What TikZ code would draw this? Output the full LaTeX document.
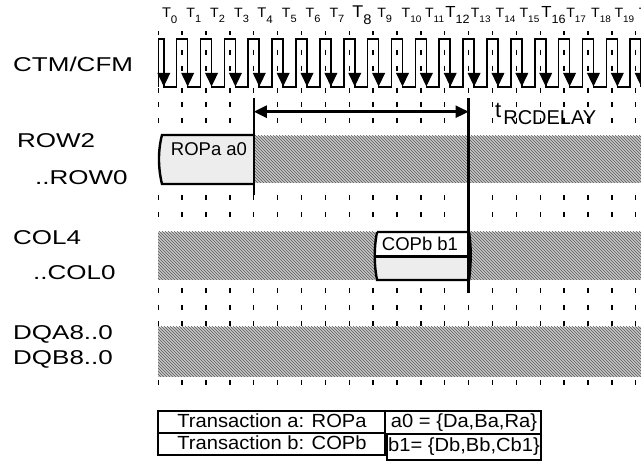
\documentclass[tikz,border=0pt]{standalone}
\usepackage{fontspec}
\setmainfont{Liberation Sans}
\newfontfamily\lblfont[FakeStretch=1.3]{Liberation Sans}
\newfontfamily\tabfont[FakeStretch=1.06]{Liberation Sans}
\newfontfamily\boxfont{Liberation Sans}
\newfontfamily\delfont{Liberation Sans}
\newfontfamily\tfont[FakeStretch=1.05]{Liberation Sans}
\usetikzlibrary{patterns,arrows.meta}
\begin{document}
\begin{tikzpicture}[x=1pt,y=-1pt,
  lbl/.style={anchor=base west, inner sep=0pt, font=\lblfont\fontsize{20}{22}\selectfont},
  tlbl/.style={anchor=base west, inner sep=0pt, font=\tfont},
  clk/.style={line width=1.6pt, line join=miter},
  tickdash/.style={line width=1.4pt},
  hatch/.style={fill=black!22, postaction={pattern=north west lines, pattern color=black!65}},
  lightbox/.style={fill=black!7},
  boxline/.style={line width=2.4pt},
  marker/.style={line width=2.5pt},
  dimline/.style={line width=2.4pt, {Triangle[length=13pt,width=12pt]}-{Triangle[length=13pt,width=12pt]}},
  boxtxt/.style={anchor=base, inner sep=0pt, font=\boxfont\fontsize{18.5}{20}\selectfont},
  tabtxt/.style={anchor=base, inner sep=0pt, font=\tabfont\fontsize{19}{20}\selectfont},
  tabline/.style={line width=1.4pt}
]
\useasboundingbox (0,0) rectangle (641,462);
\fill[white] (0,0) rectangle (641,462);

% tick dashes
\foreach \i in {0,...,20}{
  \foreach \a/\b in {31/35,50/55,66/71,88/93,102/107,118/123,195/200,212/217,288/293,305/310,321/326,380/385}{
    \draw[tickdash] ({158.3+23.87*\i},\a) -- ({158.3+23.87*\i},\b);
  }
}

% T labels
\foreach \i/\ts/\ss/\dr/\dx in {0/14/11/5.5/3.5,1/13.5/10.5/5/4,2/13.5/10.5/5/4,3/13.5/10.5/5/4,4/14/11/5.5/3.5,5/13.5/10.5/5/4,6/13.5/10.5/5/4,7/13.5/10.5/5/4,8/17/14/7/3,9/13.5/10.5/5/4,10/13.5/9.5/5/4.5,11/13.5/9.5/5/4,12/16/12/6/0.5,13/13.5/9.5/5/2,14/13.5/9.5/5/3,15/13.5/9.5/5/3,16/16/12/6/1,17/13.5/9.5/5/2,18/13.5/9.5/5/3,19/13.5/9.5/5/2.5,20/13.5/9.5/5/3}{
  \node[tlbl] (T\i) at ({158.3+23.87*\i+\dx},18) {\fontsize{\ts}{\ts}\selectfont T\raisebox{-\dr pt}{\fontsize{\ss}{\ss}\selectfont\i}};
}

% clock waveform
\draw[clk] (158.3,87) -- (158.3,39) -- (163.8,39) -- (163.8,87)
  \foreach \i in {1,...,20}{ -- ({158.3+23.87*\i-5.5},87) -- ({158.3+23.87*\i-5.5},39) -- ({158.3+23.87*\i+5.5},39) -- ({158.3+23.87*\i+5.5},87) };
\foreach \i in {0,...,20}{
  \fill ({158.3+23.87*\i+5.5-6.5},73) -- ({158.3+23.87*\i+5.5+6.5},73) -- ({158.3+23.87*\i+5.5},86.5) -- cycle;
}

% left labels
\node[lbl] (ctm) at (13,72) {CTM/CFM};
\node[lbl] (row2) at (17,148) {ROW2};
\node[lbl] (row0) at (35,185) {..ROW0};
\node[lbl] (col4) at (13,245) {COL4};
\node[lbl] (col0) at (33,280) {..COL0};
\node[lbl] (dqa) at (13,340) {DQA8..0};
\node[lbl] (dqb) at (13,365) {DQB8..0};

% ROW bar
\fill[hatch] (255,136) rectangle (648,183);
\fill[lightbox] (254,135) -- (162,135) .. controls (158,150) and (158,168) .. (162,184) -- (254,184) -- cycle;
\draw[boxline] (254,135) -- (162,135) .. controls (158,150) and (158,168) .. (162,184) -- (254,184);
\node[boxtxt] (ropa) at (209,155.5) {ROPa a0};

% COL bar
\fill[hatch] (158,232) rectangle (375,280);
\fill[hatch] (470,232) rectangle (648,280);
\fill[lightbox] (375,256.7) .. controls (374.5,266) and (375,272) .. (377,280) -- (469,280) .. controls (471,272) and (471.5,266) .. (471,256.7) -- cycle;
\fill[white] (377,232) .. controls (375,240) and (374.5,248) .. (375,256.7) -- (471,256.7) .. controls (471,248) and (471,240) .. (469,232) -- cycle;
\draw[boxline] (377,232) -- (469,232) .. controls (471,244) and (471.5,262) .. (469,280) -- (377,280) .. controls (374,264) and (374,248) .. (377,232);
\draw[boxline] (375,256.7) -- (470.5,256.7);
\node[boxtxt] (copb) at (420,250.5) {COPb b1};

% DQ bar
\fill[hatch] (158,327) rectangle (648,377);

% timing markers and delay arrow
\coordinate (m1t) at (253.8,98);
\coordinate (m1b) at (253.8,195);
\coordinate (m2t) at (468.6,98);
\coordinate (m2b) at (468.6,293);
\coordinate (la) at (253.8,111.7);
\coordinate (ra) at (468.6,111.7);
\draw[marker] (m1t) -- (m1b);
\draw[marker] (m2t) -- (m2b);
\draw[dimline] (la) -- (ra);
\node[anchor=base west, inner sep=0pt] (trc) at (495,118) {\fontsize{22}{22}\selectfont t\hspace{2pt}\raisebox{-7pt}{\delfont\fontsize{20}{20}\selectfont RCDELAY}};

% table
\draw[tabline] (158,411) rectangle (385,455);
\draw[tabline] (158,433) -- (385,433);
\draw[tabline] (385,411) rectangle (541,434);
\draw[tabline] (387,434) rectangle (541,460);
\node[tabtxt] (ta) at (272,428) {Transaction a: ROPa};
\node[tabtxt] (tb) at (272,450) {Transaction b: COPb};
\node[tabtxt] (a0) at (464,428) {a0 = \{Da,Ba,Ra\}};
\node[tabtxt] (b1) at (464,451.5) {b1= \{Db,Bb,Cb1\}};
\end{tikzpicture}
\end{document}
